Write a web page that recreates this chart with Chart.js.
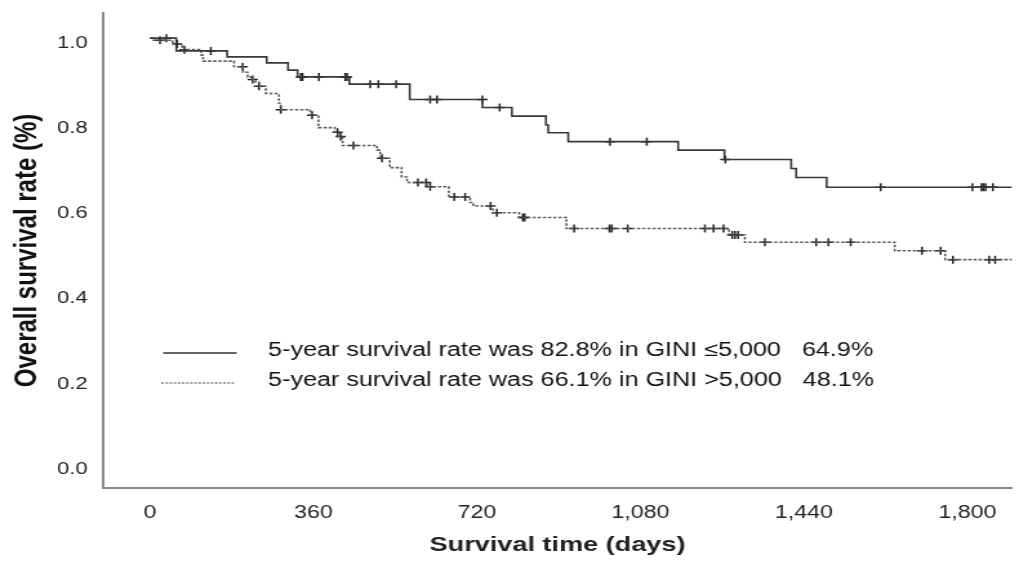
<!DOCTYPE html>
<html>
<head>
<meta charset="utf-8">
<title>Overall survival by GINI</title>
<script src="https://cdn.jsdelivr.net/npm/chart.js@4.4.1/dist/chart.umd.min.js"></script>
<style>
  html, body { margin: 0; padding: 0; background: #fff; }
  #wrap { width: 1019px; height: 566px; }
</style>
</head>
<body>
<!-- source figure is stretched ~1.29x sideways, so draw narrow and let css widen it -->
<div id="wrap"><canvas id="km" width="790" height="566" style="width:1019px;height:566px;display:block"></canvas></div>
<script>
// -------------------- DATA --------------------
const xTicks = [0, 360, 720, 1080, 1440, 1800];
const xTickLabels = ["0", "360", "720", "1,080", "1,440", "1,800"];
const yTicks = [0, 0.2, 0.4, 0.6, 0.8, 1.0];
const yTickLabels = ["0.0", "0.2", "0.4", "0.6", "0.8", "1.0"];

const seriesLabels = [
  "5-year survival rate was 82.8% in GINI \u22645,000   64.9%",
  "5-year survival rate was 66.1% in GINI >5,000   48.1%"
];

// GINI <= 5,000 : day of each drop and survival after it
const lowDays = [0, 58, 170, 257, 304, 325, 439, 572, 732, 797, 872, 877, 921, 1163, 1265, 1412, 1423, 1490, 1898];
const lowSurv = [1.0, 0.970, 0.956, 0.942, 0.925, 0.909, 0.892, 0.856, 0.837, 0.817, 0.796, 0.778, 0.757, 0.737, 0.715, 0.694, 0.673, 0.650, 0.650];
const lowCensDays = [36, 134, 332, 336, 372, 430, 434, 485, 503, 542, 617, 632, 732, 770, 1013, 1094, 1267, 1609, 1811, 1831, 1835, 1840, 1856];
const lowCensSurv = [1.0, 0.970, 0.909, 0.909, 0.909, 0.909, 0.909, 0.892, 0.892, 0.892, 0.856, 0.856, 0.856, 0.837, 0.757, 0.757, 0.715, 0.650, 0.650, 0.650, 0.650, 0.650, 0.650];

// GINI > 5,000
const highDays = [0, 5, 50, 71, 113, 117, 185, 205, 215, 223, 232, 240, 255, 284, 288, 353, 371, 407, 414, 424, 500, 507, 528, 554, 566, 610, 658, 705, 712, 755, 813, 917, 1275, 1310, 1640, 1751, 1898];
const highSurv = [1.0, 0.995, 0.986, 0.973, 0.960, 0.946, 0.933, 0.920, 0.909, 0.903, 0.897, 0.887, 0.870, 0.847, 0.832, 0.819, 0.790, 0.779, 0.769, 0.748, 0.737, 0.718, 0.696, 0.674, 0.661, 0.651, 0.627, 0.614, 0.606, 0.590, 0.579, 0.553, 0.538, 0.521, 0.501, 0.480, 0.480];
const highCensDays = [22, 60, 76, 204, 226, 240, 288, 357, 413, 420, 448, 511, 590, 608, 617, 670, 694, 750, 764, 821, 825, 934, 1012, 1017, 1052, 1222, 1241, 1263, 1282, 1288, 1295, 1354, 1467, 1494, 1543, 1700, 1741, 1768, 1848, 1861];
const highCensSurv = [0.995, 0.986, 0.973, 0.933, 0.903, 0.887, 0.832, 0.819, 0.779, 0.769, 0.748, 0.718, 0.661, 0.661, 0.651, 0.627, 0.627, 0.606, 0.590, 0.579, 0.579, 0.553, 0.553, 0.553, 0.553, 0.553, 0.553, 0.553, 0.538, 0.538, 0.538, 0.521, 0.521, 0.521, 0.521, 0.501, 0.501, 0.480, 0.480, 0.480];

const toPoints = (xs, ys) => xs.map((x, i) => ({ x: x, y: ys[i] }));

const SANS = "'Liberation Sans', Arial, sans-serif";

// -------------------- LEGEND (drawn inside plot) --------------------
const legendPlugin = {
  id: "kmLegend",
  afterDraw(chart) {
    const c = chart.ctx;
    c.save();
    c.strokeStyle = "#333";
    c.lineWidth = 1.5;
    c.beginPath();
    c.moveTo(126.5, 353);
    c.lineTo(183.5, 353);
    c.stroke();

    c.setLineDash([2, 1.2]);
    c.lineWidth = 1.2;
    c.strokeStyle = "#444";
    c.beginPath();
    c.moveTo(125, 383);
    c.lineTo(182.5, 383);
    c.stroke();
    c.setLineDash([]);

    c.fillStyle = "#111";
    c.font = "19.5px " + SANS;
    c.textBaseline = "middle";
    c.textAlign = "left";
    c.fillText(seriesLabels[0], 207.8, 351);
    c.fillText(seriesLabels[1], 207.8, 381);
    c.restore();
  }
};

// -------------------- CHART --------------------
const ctx = document.getElementById("km").getContext("2d");

const chart = new Chart(ctx, {
  type: "scatter",
  data: {
    datasets: [
      {
        label: seriesLabels[0],
        data: toPoints(lowDays, lowSurv),
        showLine: true,
        stepped: true,
        borderColor: "#383838",
        borderWidth: 1.6,
        pointRadius: 0,
        fill: false
      },
      {
        label: seriesLabels[1],
        data: toPoints(highDays, highSurv),
        showLine: true,
        stepped: true,
        borderColor: "#5a5a5a",
        borderWidth: 1.6,
        borderDash: [2.5, 1.5],
        pointRadius: 0,
        fill: false
      },
      {
        label: "censored (GINI \u22645,000)",
        data: toPoints(lowCensDays, lowCensSurv),
        showLine: false,
        pointStyle: "cross",
        pointRadius: 4,
        pointBorderColor: "#222",
        pointBorderWidth: 1.5
      },
      {
        label: "censored (GINI >5,000)",
        data: toPoints(highCensDays, highCensSurv),
        showLine: false,
        pointStyle: "cross",
        pointRadius: 4,
        pointBorderColor: "#222",
        pointBorderWidth: 1.5
      }
    ]
  },
  options: {
    responsive: false,
    devicePixelRatio: 1,
    animation: false,
    layout: { padding: { top: 13, right: 0, bottom: 0, left: 0 } },
    plugins: {
      legend: { display: false },
      tooltip: { enabled: false }
    },
    scales: {
      x: {
        type: "linear",
        min: -103,
        max: 1898,
        grid: { display: false, drawTicks: false },
        border: { display: true, color: "#8a8a8a", width: 2 },
        afterBuildTicks: (scale) => { scale.ticks = xTicks.map(v => ({ value: v })); },
        afterFit: (scale) => {
          scale.height = 78;
          scale.paddingLeft = 0;
          scale.paddingRight = 0;
        },
        ticks: {
          autoSkip: false,
          maxRotation: 0,
          padding: 12,
          color: "#222",
          font: { family: SANS, size: 18, lineHeight: 1.4 },
          callback: (value) => xTickLabels[xTicks.indexOf(value)]
        },
        title: {
          display: true,
          text: "Survival time (days)",
          color: "#222",
          font: { family: SANS, size: 21, weight: "bold" },
          padding: { top: 0, bottom: 8 }
        }
      },
      y: {
        type: "linear",
        min: -0.056,
        max: 1.059,
        grid: { display: false, drawTicks: false },
        border: { display: true, color: "#8a8a8a", width: 2 },
        afterBuildTicks: (scale) => { scale.ticks = yTicks.map(v => ({ value: v })); },
        afterFit: (scale) => {
          scale.width = 80;
          scale.paddingTop = 0;
          scale.paddingBottom = 0;
        },
        ticks: {
          padding: 12,
          labelOffset: 5,
          color: "#222",
          font: { family: SANS, size: 17 },
          callback: (value) => yTickLabels[yTicks.indexOf(value)]
        },
        title: {
          display: true,
          text: "Overall survival rate (%)",
          color: "#111",
          font: { family: SANS, size: 24, weight: "bold" },
          padding: { top: 7, bottom: 0 }
        }
      }
    }
  },
  plugins: [legendPlugin]
});
</script>
</body>
</html>
